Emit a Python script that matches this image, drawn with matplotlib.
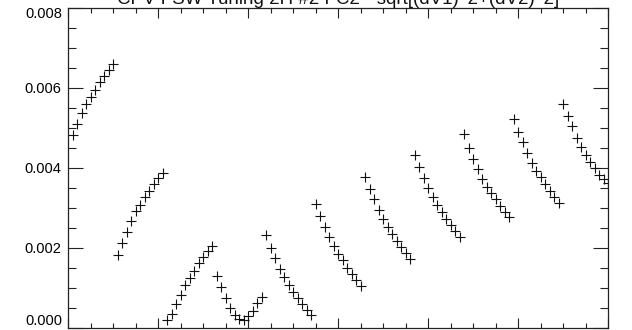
import numpy as np
import matplotlib.pyplot as plt
from matplotlib.ticker import MultipleLocator, FuncFormatter, NullFormatter

# Sample index and residual magnitude for each tuning step
idx = np.arange(1, 121)

step1 = [0.00481, 0.00508, 0.00537, 0.00558, 0.00577, 0.00595, 0.00614, 0.00630,
         0.00645, 0.00659]
step2 = [0.00182, 0.00212, 0.00240, 0.00268, 0.00291, 0.00308, 0.00327, 0.00341,
         0.00359, 0.00375, 0.00388]
step3 = [0.00020, 0.00035, 0.00060, 0.00083, 0.00108, 0.00124, 0.00143, 0.00161,
         0.00177, 0.00191, 0.00204]
step4 = [0.00130, 0.00102, 0.00074, 0.00049, 0.00032, 0.00023, 0.00020, 0.00030,
         0.00043, 0.00062, 0.00077]
step5 = [0.00232, 0.00200, 0.00174, 0.00148, 0.00127, 0.00108, 0.00090, 0.00075,
         0.00060, 0.00045, 0.00032]
step6 = [0.00310, 0.00280, 0.00253, 0.00227, 0.00204, 0.00185, 0.00169, 0.00151,
         0.00135, 0.00120, 0.00106]
step7 = [0.00378, 0.00347, 0.00322, 0.00294, 0.00273, 0.00253, 0.00235, 0.00218,
         0.00203, 0.00188, 0.00173]
step8 = [0.00433, 0.00401, 0.00375, 0.00349, 0.00326, 0.00308, 0.00289, 0.00273,
         0.00257, 0.00243, 0.00227]
step9 = [0.00483, 0.00449, 0.00423, 0.00397, 0.00373, 0.00353, 0.00338, 0.00323,
         0.00305, 0.00289, 0.00276]
step10 = [0.00522, 0.00489, 0.00464, 0.00437, 0.00412, 0.00393, 0.00376, 0.00359,
          0.00343, 0.00327, 0.00313]
step11 = [0.00560, 0.00530, 0.00503, 0.00475, 0.00451, 0.00432, 0.00415, 0.00399,
          0.00383, 0.00372, 0.00362]

dv = np.concatenate([step1, step2, step3, step4, step5, step6, step7, step8,
                     step9, step10, step11])

title = 'CPV FSW Tuning 2H #2 FC2 - sqrt[(dV1)^2+(dV2)^2]'
ymin, ymax = 0.0, 0.008

plt.rcParams['font.family'] = ['Liberation Sans', 'DejaVu Sans']

fig = plt.figure(figsize=(6.32, 3.30), dpi=100, facecolor='white')
ax = fig.add_axes([68 / 632, 2 / 330, 540 / 632, 320.5 / 330])

ax.plot(idx, dv, linestyle='none', marker='+', markersize=6.5,
        markeredgewidth=0.8, color='#111111')

ax.set_xlim(0, 120)
ax.set_ylim(ymin, ymax)


def ylab(v, pos):
    # end labels are drawn separately so they stay inside the figure
    if abs(v - ymin) < 1e-9 or abs(v - ymax) < 1e-9:
        return ''
    return '%.3f' % v


ax.xaxis.set_major_locator(MultipleLocator(20))
ax.xaxis.set_minor_locator(MultipleLocator(5))
ax.xaxis.set_major_formatter(NullFormatter())
ax.yaxis.set_major_locator(MultipleLocator(0.002))
ax.yaxis.set_minor_locator(MultipleLocator(0.0005))
ax.yaxis.set_major_formatter(FuncFormatter(ylab))

ax.tick_params(axis='x', which='major', direction='in', length=7, width=0.8,
               top=True, bottom=True, color='#222222')
ax.tick_params(axis='x', which='minor', direction='in', length=3.5, width=0.8,
               top=True, bottom=True, color='#222222')
ax.tick_params(axis='y', which='major', direction='in', length=11, width=0.8,
               left=True, right=True, labelsize=10.5, pad=5, color='#222222')
ax.tick_params(axis='y', which='minor', direction='in', length=5.5, width=0.8,
               left=True, right=True, color='#222222')

trans = ax.get_yaxis_transform()
ax.text(-0.0105, ymin, '%.3f' % ymin, transform=trans, ha='right', va='bottom',
        fontsize=10.5)
ax.text(-0.0105, ymax, '%.3f' % ymax, transform=trans, ha='right', va='top',
        fontsize=10.5)

for s in ax.spines.values():
    s.set_linewidth(0.9)
    s.set_color('#222222')

ax.set_title(title, fontsize=13.5, pad=-6, color='#111111', va='baseline')

fig.savefig('out.png', dpi=100)
